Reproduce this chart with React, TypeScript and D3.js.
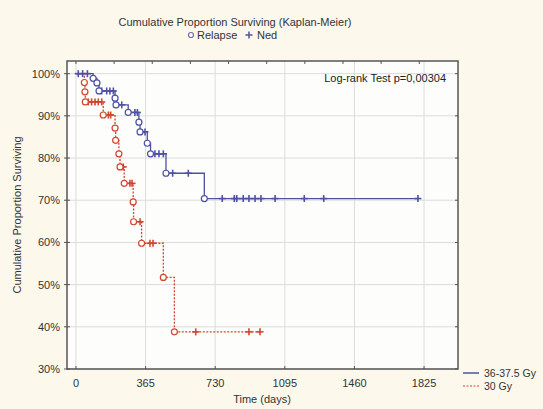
import React from 'react';
import * as d3 from 'd3';

// 36-37.5 Gy group: events (day, survival % after the event) and censored days
const highDays = [90, 110, 121, 205, 210, 274, 330, 336, 374, 391, 472, 673];
const highSurv = [98.9, 97.8, 95.9, 94.2, 92.6, 90.8, 88.5, 86.2, 83.5, 81.0, 76.4, 70.4];
const highCensor = [12, 35, 60, 135, 161, 178, 196, 240, 309, 322, 362, 414, 435, 458, 507, 589,
  767, 830, 843, 877, 907, 939, 970, 1044, 1197, 1299, 1793];

// 30 Gy group
const lowDays = [44, 47, 49, 143, 205, 208, 225, 231, 253, 300, 302, 344, 458, 516];
const lowSurv = [97.9, 95.7, 93.3, 90.2, 87.1, 84.2, 81.0, 77.9, 74.0, 69.6, 64.9, 59.8, 51.7, 38.8];
const lowCensor = [65, 82, 100, 117, 135, 170, 182, 248, 283, 294, 336, 388, 404, 628, 907, 965];

const xTicks = [0, 365, 730, 1095, 1460, 1825];
const topTicks = [0, 200, 400, 600, 800, 1000, 1200, 1400, 1600, 1800, 2000];
const yTicks = [30, 40, 50, 60, 70, 80, 90, 100];

const W = 543;
const H = 409;
const font = '"Liberation Sans", Arial, sans-serif';
const BLUE = '#4f51a2';
const RED = '#d2452f';

const x = d3.scaleLinear().domain([-47, 2003]).range([67, 458]);
const y = d3.scaleLinear().domain([30, 103]).range([369, 61]);

const survAt = (days: number[], surv: number[], t: number) => {
  let s = 100;
  days.forEach((d, i) => { if (d <= t) s = surv[i]; });
  return s;
};

const Cross = ({ cx, cy, color }: { cx: number; cy: number; color: string }) => (
  <g stroke={color} strokeWidth={1.6}>
    <line x1={cx - 3.5} x2={cx + 3.5} y1={cy} y2={cy} />
    <line x1={cx} x2={cx} y1={cy - 3.5} y2={cy + 3.5} />
  </g>
);

const Curve = ({ days, surv, censor, color, dash }:
  { days: number[]; surv: number[]; censor: number[]; color: string; dash?: string }) => {
  const end = Math.max(d3.max(censor) ?? 0, d3.max(days) ?? 0);
  const pts: [number, number][] = [[0, 100], ...days.map((d, i) => [d, surv[i]] as [number, number]),
    [end, surv[surv.length - 1]]];
  const line = d3.line<[number, number]>()
    .x(d => x(d[0]))
    .y(d => y(d[1]))
    .curve(d3.curveStepAfter);
  return (
    <g>
      <path d={line(pts) ?? ''} fill="none" stroke={color} strokeWidth={1.3} strokeDasharray={dash} />
      {censor.map((c, i) => (
        <Cross key={'c' + i} cx={x(c)} cy={y(survAt(days, surv, c))} color={color} />
      ))}
      {days.map((d, i) => (
        <circle key={'e' + i} cx={x(d)} cy={y(surv[i])} r={3} fill="#fff" stroke={color} strokeWidth={1.2} />
      ))}
    </g>
  );
};

export default function App() {
  const [x0, x1] = x.range();
  const [y0, y1] = y.range();
  return (
    <svg width={W} height={H} style={{ position: 'absolute', left: 0, top: 0 }} fontFamily={font}>
      <rect width={W} height={H} fill="#fcf8ec" />
      <rect x={x0} y={y1} width={x1 - x0} height={y0 - y1} fill="#fdfdfc" />

      {/* grid */}
      {xTicks.map(t => (
        <line key={'gx' + t} x1={x(t)} x2={x(t)} y1={y1} y2={y0} stroke="#dcdcdc" strokeWidth={1} />
      ))}
      {yTicks.map(t => (
        <line key={'gy' + t} x1={x0} x2={x1} y1={y(t)} y2={y(t)} stroke="#dcdcdc" strokeWidth={1} />
      ))}

      <Curve days={lowDays} surv={lowSurv} censor={lowCensor} color={RED} dash="2,1.5" />
      <Curve days={highDays} surv={highSurv} censor={highCensor} color={BLUE} />

      {/* frame and ticks */}
      <rect x={x0} y={y1} width={x1 - x0} height={y0 - y1} fill="none" stroke="#555" strokeWidth={1.5} />
      {xTicks.map(t => (
        <line key={'tx' + t} x1={x(t)} x2={x(t)} y1={y0} y2={y0 - 3} stroke="#555" />
      ))}
      {topTicks.filter(t => x(t) < x1 - 2).map(t => (
        <line key={'tt' + t} x1={x(t)} x2={x(t)} y1={y1} y2={y1 + 3} stroke="#555" />
      ))}
      {yTicks.map(t => (
        <g key={'ty' + t} stroke="#555">
          <line x1={x0 - 3} x2={x0 + 3} y1={y(t)} y2={y(t)} />
          <line x1={x1} x2={x1 - 3} y1={y(t)} y2={y(t)} />
        </g>
      ))}

      {/* tick labels */}
      {yTicks.map(t => (
        <text key={'ly' + t} x={x0 - 7} y={y(t) + 4} fontSize={11} textAnchor="end" fill="#333">{t}%</text>
      ))}
      {xTicks.map(t => (
        <text key={'lx' + t} x={x(t)} y={387} fontSize={11} textAnchor="middle" fill="#333">{t}</text>
      ))}

      <text x={262} y={403} fontSize={11} textAnchor="middle" fill="#333">Time (days)</text>
      <text transform="translate(21,215) rotate(-90)" fontSize={11} textAnchor="middle" fill="#333">
        Cumulative Proportion Surviving
      </text>

      <text x={235} y={26} fontSize={11} textAnchor="middle" fill="#333">
        Cumulative Proportion Surviving (Kaplan-Meier)
      </text>
      <circle cx={191} cy={35} r={2.5} fill="#fff" stroke="#7a6aa8" strokeWidth={1.2} />
      <text x={197} y={39} fontSize={11} fill="#333">Relapse</text>
      <Cross cx={249} cy={35} color="#5a5aa8" />
      <text x={257} y={39} fontSize={11} fill="#333">Ned</text>

      <text x={446} y={82} fontSize={11} textAnchor="end" fill="#222">Log-rank Test p=0,00304</text>

      {/* group legend */}
      <line x1={463} x2={479} y1={373} y2={373} stroke={BLUE} strokeWidth={1.5} />
      <text x={484} y={377} fontSize={10.5} fill="#333">36-37.5 Gy</text>
      <line x1={463} x2={479} y1={386} y2={386} stroke={RED} strokeWidth={1.2} strokeDasharray="2,1.5" />
      <text x={484} y={390} fontSize={10.5} fill="#333">30 Gy</text>
    </svg>
  );
}
